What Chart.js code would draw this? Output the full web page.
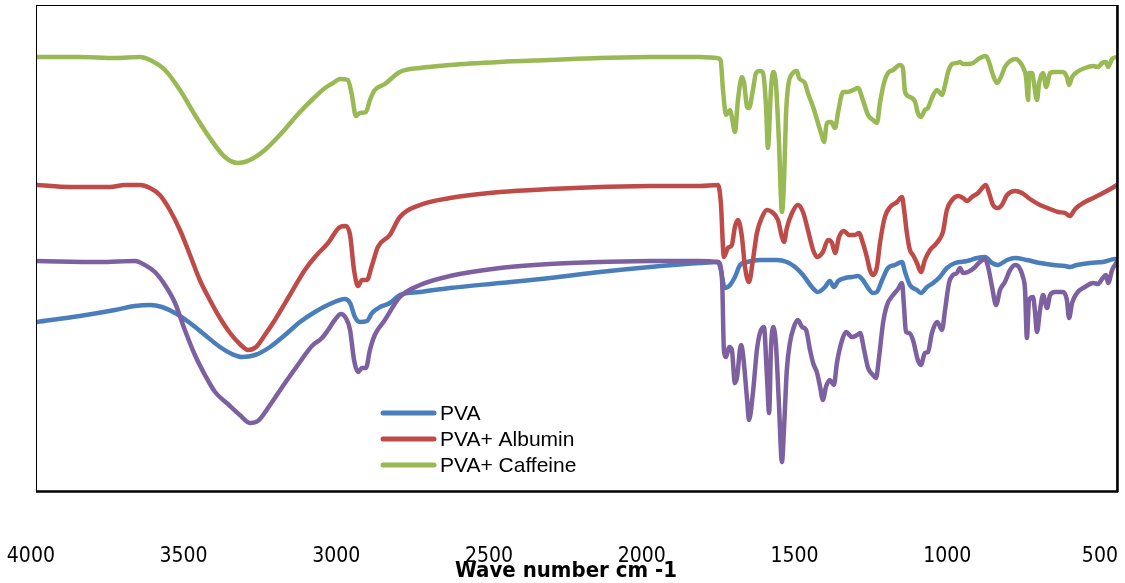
<!DOCTYPE html>
<html>
<head>
<meta charset="utf-8">
<script src="https://cdn.jsdelivr.net/npm/chart.js@4.4.1/dist/chart.umd.min.js"></script>
<style>
  html,body{margin:0;padding:0;background:#fff;}
  #wrap{width:1125px;height:583px;}
</style>
</head>
<body>
<div id="wrap"><canvas id="ftir" width="1125" height="583"></canvas></div>
<script>
// FTIR spectra: wave number (cm-1) vs transmittance (arbitrary %)
const xTickValues = [4000, 3500, 3000, 2500, 2000, 1500, 1000, 500];
const legendNames = ["PVA", "PVA+ Albumin", "PVA+ Caffeine"];

// PVA (blue)
const pvaWn = [3980,3840,3725,3659,3610,3571,3528,3479,3430,3381,
  3342,3309,3266,3217,3168,3119,3070,3021,2972,2955,
  2939,2923,2900,2883,2857,2825,2792,2726,2628,2464,
  2301,2137,1973,1809,1750,1741,1728,1711,1695,1678,
  1655,1613,1557,1525,1498,1472,1443,1423,1400,1384,
  1371,1357,1334,1312,1292,1276,1259,1243,1230,1213,
  1194,1171,1148,1138,1122,1099,1086,1066,1046,1024,
  1001,974,935,902,876,853,834,804,778,739,
  696,653,614,598,575,532,490,450,444];
const pvaT = [33.8,35.0,36.2,37.0,37.2,36.8,35.6,33.6,31.2,28.8,
  27.4,26.8,27.2,28.8,31.2,33.8,35.8,37.4,38.4,37.6,
  34.8,33.8,34.0,35.6,36.8,37.6,39.2,39.8,40.6,41.6,
  42.6,43.8,44.8,45.6,45.8,44.2,40.6,41.2,42.8,45.2,
  45.8,46.2,46.2,45.8,44.8,43.2,40.8,39.8,40.8,42.0,
  40.8,42.0,42.6,42.8,43.0,42.2,40.6,39.6,39.8,42.2,
  44.6,45.2,45.8,43.8,41.2,40.2,39.6,40.8,41.6,42.8,
  44.6,45.6,46.0,46.6,46.8,45.6,45.2,46.2,46.6,46.2,
  45.6,45.2,45.0,44.8,45.2,45.6,45.8,46.4,46.4];

// PVA + Albumin (red)
const albWn = [3980,3872,3741,3692,3643,3610,3578,3545,3512,3479,
  3447,3414,3381,3348,3316,3289,3263,3234,3201,3152,
  3103,3070,3027,2988,2969,2955,2942,2929,2916,2900,
  2883,2864,2825,2792,2726,2628,2464,2301,2137,1973,
  1809,1750,1741,1731,1718,1705,1695,1685,1672,1662,
  1649,1636,1623,1606,1590,1574,1554,1541,1534,1525,
  1508,1489,1472,1456,1439,1426,1407,1390,1377,1367,
  1354,1338,1321,1302,1289,1276,1263,1253,1243,1230,
  1220,1204,1187,1164,1148,1141,1132,1122,1112,1099,
  1086,1073,1056,1040,1027,1014,1001,984,964,948,
  935,919,899,873,863,850,834,821,804,778,
  755,729,696,663,637,614,598,581,555,522,
  490,460,444];
const albT = [61.2,60.8,60.8,61.2,61.2,60.6,59.2,56.2,52.2,47.2,
  42.2,38.2,34.6,31.6,29.4,28.2,28.8,31.2,34.2,39.2,
  44.2,46.8,49.6,52.8,53.0,51.2,44.2,41.0,42.2,42.2,
  45.2,48.8,51.2,54.8,57.2,58.6,59.8,60.4,60.8,61.0,
  61.0,61.2,57.6,46.8,48.6,49.2,52.8,54.2,50.8,44.8,
  41.8,46.2,51.6,54.8,56.2,55.8,54.2,50.8,49.8,52.6,
  55.6,57.2,55.8,52.2,48.2,46.8,47.8,50.2,49.6,47.6,
  50.8,52.0,51.2,51.2,51.6,49.6,46.8,44.2,43.2,44.8,
  49.6,54.8,56.8,57.8,58.8,56.2,51.6,48.2,47.2,45.6,
  43.8,46.2,48.2,49.2,50.2,51.8,56.2,58.2,59.0,58.6,
  58.0,58.8,59.6,61.2,59.6,57.2,56.6,57.2,59.2,60.0,
  59.6,58.4,57.2,56.4,55.8,55.6,55.0,56.4,57.6,58.6,
  59.6,60.6,61.2];

// PVA + Caffeine (green)
const cafWn = [3980,3840,3725,3643,3610,3561,3512,3463,3414,3365,
  3322,3283,3234,3185,3119,3070,3037,3011,2988,2962,
  2949,2936,2923,2903,2890,2874,2841,2792,2726,2628,
  2464,2301,2137,1973,1809,1754,1742,1734,1724,1711,
  1705,1695,1685,1672,1665,1655,1649,1636,1626,1613,
  1603,1593,1587,1577,1570,1561,1551,1541,1534,1528,
  1521,1505,1492,1485,1466,1456,1439,1426,1413,1403,
  1394,1380,1367,1357,1341,1325,1308,1292,1276,1259,
  1243,1230,1220,1207,1194,1177,1155,1145,1138,1122,
  1105,1096,1086,1073,1063,1050,1033,1017,1007,997,
  984,968,958,948,932,915,893,873,863,850,
  837,824,811,794,775,762,752,742,735,732,
  722,716,706,699,686,676,663,647,621,608,
  601,591,575,549,522,506,493,480,473,460,
  444];
const cafT = [86.8,86.8,86.6,86.8,86.2,84.2,80.2,75.2,70.6,66.8,
  65.6,66.2,68.2,71.2,75.8,78.8,80.6,81.6,82.4,82.2,
  79.2,75.0,75.6,75.8,78.2,80.2,81.4,83.8,84.6,85.2,
  85.8,86.2,86.6,86.8,86.8,86.6,86.2,80.2,75.2,76.2,
  74.8,71.8,78.2,82.8,81.6,76.8,76.6,80.2,83.6,84.0,
  83.6,76.8,68.6,80.2,83.8,81.6,70.2,55.8,62.2,74.8,
  80.8,83.6,84.0,82.6,81.6,79.6,76.8,74.2,71.6,69.8,
  73.6,73.8,72.6,75.8,79.8,79.8,80.2,80.6,78.2,75.2,
  74.2,73.6,77.6,81.6,83.6,84.2,85.2,84.6,79.8,78.8,
  77.8,75.6,74.8,76.2,76.6,78.6,80.2,79.2,81.2,83.8,
  85.4,85.6,85.8,85.4,85.4,85.6,86.6,87.0,85.8,83.2,
  81.6,82.8,84.8,86.0,86.4,85.8,84.8,82.8,78.2,83.6,
  83.6,81.6,78.2,81.6,83.6,80.8,83.6,83.8,83.8,82.8,
  81.2,82.8,83.8,84.6,85.0,84.8,85.6,85.8,84.8,86.4,
  86.8];

// fourth sample (purple, not in legend)
const mixWn = [3980,3774,3659,3627,3594,3561,3528,3496,3463,3430,
  3397,3355,3316,3283,3257,3217,3168,3119,3080,3047,
  3027,3005,2985,2969,2955,2942,2929,2916,2903,2890,
  2874,2841,2792,2726,2628,2464,2301,2137,1973,1809,
  1750,1737,1731,1724,1714,1705,1695,1688,1675,1669,
  1655,1649,1636,1623,1613,1600,1590,1583,1577,1570,
  1561,1551,1541,1534,1525,1515,1502,1489,1475,1462,
  1449,1439,1426,1416,1407,1397,1384,1371,1361,1344,
  1331,1312,1295,1285,1272,1259,1243,1233,1223,1210,
  1197,1177,1161,1148,1141,1135,1125,1112,1096,1086,
  1073,1063,1050,1033,1017,1007,994,981,968,958,
  948,932,912,893,876,866,853,840,827,811,
  794,778,765,752,745,739,732,719,713,706,
  696,686,673,663,647,621,608,601,591,575,
  549,522,506,493,480,473,460,444];
const mixT = [46.0,45.8,46.0,45.2,43.8,41.2,37.6,32.2,27.2,23.2,
  19.8,17.4,15.2,13.6,14.0,17.2,21.6,25.8,29.0,30.6,
  32.2,34.2,35.4,34.6,32.2,26.2,23.8,24.6,24.6,28.2,
  31.2,34.2,38.8,41.2,43.0,44.6,45.4,45.8,46.0,46.0,
  45.8,42.2,28.2,26.8,28.8,28.2,21.6,22.8,29.2,27.6,
  18.2,14.2,19.6,28.2,31.6,32.8,22.8,15.6,28.2,32.8,
  29.6,17.6,5.8,12.8,24.2,29.6,32.8,34.2,32.8,32.2,
  28.2,25.6,23.6,20.8,18.2,20.8,22.2,21.2,25.6,30.2,
  31.8,30.8,31.2,31.6,28.2,24.6,23.2,22.6,26.8,33.6,
  37.2,39.2,40.4,41.6,36.6,31.8,31.6,30.2,26.2,25.2,
  27.6,27.8,31.6,33.8,32.2,36.2,41.6,43.2,43.6,44.6,
  43.6,43.8,44.6,45.8,46.4,44.8,40.8,37.2,40.2,41.8,
  44.2,45.2,44.8,42.8,40.2,30.6,38.2,38.8,36.2,31.8,
  36.2,39.2,36.6,39.2,39.8,39.8,38.2,34.6,37.6,39.6,
  40.8,41.6,41.4,42.4,43.2,41.6,44.2,45.8];

function toPoints(wn, t){ return wn.map((w,i)=>({x:w, y:t[i]})); }

function series(label, wn, t, color, order){
  return {
    label, data: toPoints(wn, t), borderColor: color, backgroundColor: color,
    borderWidth: 4.5, pointRadius: 0, fill: false, order,
    cubicInterpolationMode: 'monotone', borderJoinStyle: 'round', borderCapStyle: 'round'
  };
}

// frame around the plot area, thicker on the bottom and right like the source
const framePlugin = {
  id: 'frame',
  afterDraw(chart){
    const {ctx, chartArea:a} = chart;
    ctx.save();
    ctx.strokeStyle = '#000';
    ctx.lineWidth = 1;
    ctx.strokeRect(a.left - 0.5, a.top + 0.5, a.right - a.left + 0.5, a.bottom - a.top);
    ctx.lineWidth = 2.5;
    ctx.beginPath();
    ctx.moveTo(a.left - 1, a.bottom + 0.5); ctx.lineTo(a.right + 1, a.bottom + 0.5);
    ctx.moveTo(a.right + 0.5, a.top); ctx.lineTo(a.right + 0.5, a.bottom + 1);
    ctx.stroke();
    ctx.restore();
  }
};

// legend box inside the plot, three entries only
const legendPlugin = {
  id: 'insideLegend',
  afterDraw(chart){
    const ctx = chart.ctx;
    ctx.save();
    ctx.font = '21px "Liberation Sans", Arial, sans-serif';
    ctx.textBaseline = 'middle';
    legendNames.forEach((name, i) => {
      const ds = chart.data.datasets[i];
      const y = 413 + i * 26;
      ctx.strokeStyle = ds.borderColor;
      ctx.lineWidth = 5;
      ctx.lineCap = 'round';
      ctx.beginPath(); ctx.moveTo(383, y); ctx.lineTo(434, y); ctx.stroke();
      ctx.fillStyle = '#000';
      ctx.fillText(name, 440, y + 1);
    });
    ctx.restore();
  }
};

// axis title, sits over the tick labels in the source
const axisTitlePlugin = {
  id: 'axisTitle',
  afterDraw(chart){
    const ctx = chart.ctx;
    ctx.save();
    ctx.font = 'bold 22px "DejaVu Sans Condensed", Arial, sans-serif';
    ctx.textAlign = 'center';
    ctx.textBaseline = 'middle';
    ctx.fillStyle = '#000';
    ctx.fillText('Wave number cm -1', 566, 571);
    ctx.restore();
  }
};

new Chart(document.getElementById('ftir'), {
  type: 'line',
  data: {
    datasets: [
      series('PVA', pvaWn, pvaT, '#4A7EBB', 3),
      series('PVA+ Albumin', albWn, albT, '#BE4B48', 2),
      series('PVA+ Caffeine', cafWn, cafT, '#98B954', 1),
      series('PVA+ Albumin+ Caffeine', mixWn, mixT, '#7D60A0', 0)
    ]
  },
  options: {
    responsive: false,
    animation: false,
    devicePixelRatio: 1,
    layout: { padding: { left: 37, right: 8, top: 5, bottom: 0 } },
    plugins: { legend: { display: false }, tooltip: { enabled: false } },
    scales: {
      x: {
        type: 'linear',
        reverse: true,
        min: 444,
        max: 3980,
        afterBuildTicks(scale){ scale.ticks = xTickValues.map(v => ({value: v})); },
        afterFit(scale){ scale.height = 92; scale.paddingLeft = 0; scale.paddingRight = 0; },
        grid: { display: false, drawTicks: false },
        border: { display: false },
        ticks: {
          autoSkip: false,
          maxRotation: 0,
          padding: 53,
          color: '#000',
          font: { family: '"DejaVu Sans Condensed", Arial, sans-serif', size: 21 },
          callback: v => String(v)
        }
      },
      y: {
        display: false,
        min: 0,
        max: 97.2
      }
    }
  },
  plugins: [framePlugin, legendPlugin, axisTitlePlugin]
});
</script>
</body>
</html>
